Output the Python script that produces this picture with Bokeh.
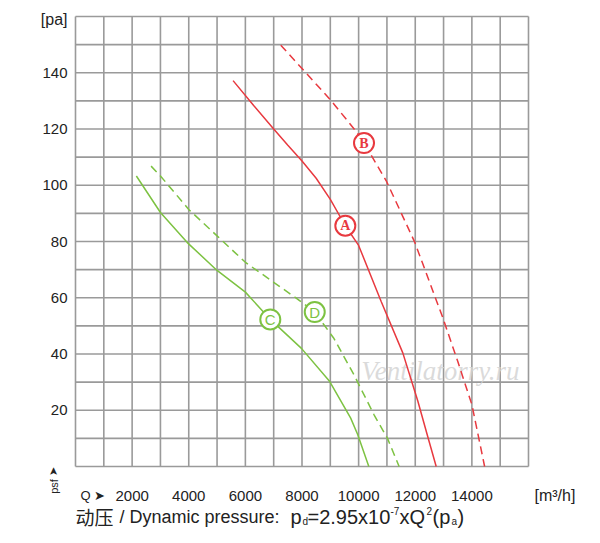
from bokeh.plotting import figure
from bokeh.core.properties import value
from bokeh.embed import file_html
from bokeh.resources import INLINE

A_x = [5565, 6300, 7000, 7500, 8000, 8500, 9000, 9530, 10000, 10800, 11560, 12090, 12450, 12740]
A_y = [137.2, 128.3, 120, 114.2, 108.6, 102.5, 95, 85.6, 78.6, 58.6, 40.4, 23.3, 10.3, 0]
B_x = [7250, 8000, 9000, 9860, 10190, 10980, 11980, 12980, 13500, 14000, 14450]
B_y = [149.8, 141.5, 130.4, 119.8, 115, 101.5, 79.8, 52.7, 37.4, 22, 0]
C_x = [2150, 3000, 3940, 5000, 6000, 6880, 7980, 8980, 9720, 9970, 10360]
C_y = [103.3, 90.3, 79.7, 69.7, 62, 52.3, 42, 30.2, 17.2, 11.3, 0]
D_x = [2670, 3000, 4000, 5000, 6000, 7000, 7830, 8450, 9130, 9840, 10550, 11020, 11430]
D_y = [106.8, 103.3, 91.4, 82, 72.6, 65.5, 59.6, 54.9, 45.5, 32.5, 18.3, 10, 0]
mark_text = ["A", "B", "C", "D"]
mark_x = [9530, 10190, 6880, 8450]
mark_y = [85.6, 115, 52.3, 54.9]
x_ticks = [2000, 4000, 6000, 8000, 10000, 12000, 14000]
y_ticks = [20, 40, 60, 80, 100, 120, 140]
caption_parts = ["/ Dynamic pressure:", "p", "d", "=2.95x10", "-7", "xQ", "2", "(p", "a", ")"]
caption_left_px = [119, 290, 302, 307, 390, 399, 426, 432, 451, 457]
caption_kind = ["n", "n", "sub", "n", "sup", "n", "sup", "n", "sub", "n"]

RED = "#e8393f"; GREEN = "#7dc242"; GRID = "#9a9a9a"; INK = "#222222"
FONT = value("Liberation Sans")
XMAX, YMAX = 16000, 160
PXX = 453 / XMAX
PXY = 450 / YMAX
W, H = 584, 535
LEFT, TOP, BOTTOM = 75, 16, 466
x0 = -LEFT / PXX; x1 = XMAX + (W - LEFT - 453) / PXX
y0 = -(H - BOTTOM) / PXY; y1 = YMAX + TOP / PXY

def page_x(px):
    return (px - LEFT) / PXX

def page_y(py):
    return (BOTTOM - py) / PXY

p = figure(width=W, height=H, output_backend="svg", toolbar_location=None,
           x_range=(x0, x1), y_range=(y0, y1), min_border=0)
p.axis.visible = False
p.grid.visible = False
p.outline_line_color = None
p.background_fill_color = "white"

gx = list(range(0, XMAX + 1, 1000))
gy = list(range(0, YMAX + 1, 10))
p.segment(x0=gx, y0=[0] * len(gx), x1=gx, y1=[YMAX] * len(gx), line_color=GRID, line_width=1.6)
p.segment(x0=[0] * len(gy), y0=gy, x1=[XMAX] * len(gy), y1=gy, line_color=GRID, line_width=1.6)

p.text(x=[12890], y=[34], text=["Ventilatorry.ru"], text_font=value("Liberation Serif"),
       text_font_style="italic", text_font_size="27px", text_color="#d4d4d4",
       text_align="center", text_baseline="middle", text_alpha=0.85)

p.line(A_x, A_y, line_color=RED, line_width=1.5)
p.line(B_x, B_y, line_color=RED, line_width=1.5, line_dash="8 5")
p.line(C_x, C_y, line_color=GREEN, line_width=1.5)
p.line(D_x, D_y, line_color=GREEN, line_width=1.5, line_dash="8 5")
mc = [RED, RED, GREEN, GREEN]
p.scatter(mark_x, mark_y, size=20, fill_color="white", line_color=mc, line_width=2)
p.text(mark_x[:2], mark_y[:2], text=mark_text[:2], text_color=mc[:2], text_align="center",
       text_baseline="middle", text_font_size="14px", text_font=value("Liberation Serif"),
       text_font_style="bold")
p.text(mark_x[2:], mark_y[2:], text=mark_text[2:], text_color=mc[2:], text_align="center",
       text_baseline="middle", text_font_size="15px", text_font=FONT)

TY = page_y(495)
p.text(x=x_ticks, y=[TY] * len(x_ticks), text=[str(t) for t in x_ticks], text_font=FONT,
       text_font_size="15px", text_color=INK, text_align="center", text_baseline="middle")
p.text(x=[page_x(67)] * len(y_ticks), y=y_ticks, text=[str(t) for t in y_ticks], text_font=FONT,
       text_font_size="15px", text_color=INK, text_align="right", text_baseline="middle")
p.text(x=[page_x(67)], y=[page_y(19)], text=["[pa]"], text_font=FONT, text_font_size="16px",
       text_color=INK, text_align="right", text_baseline="middle")
p.text(x=[page_x(80)], y=[TY], text=["Q ➤"], text_font=FONT, text_font_size="13px",
       text_color=INK, text_align="left", text_baseline="middle")
p.text(x=[page_x(534)], y=[TY], text=["[m³/h]"], text_font=FONT, text_font_size="16px",
       text_color=INK, text_align="left", text_baseline="middle")
p.text(x=[page_x(53)], y=[page_y(480)], text=["psf ➤"], angle=1.5708, text_font=FONT,
       text_font_size="11px", text_color=INK, text_align="center", text_baseline="middle")

CY = page_y(516)
p.text(x=[page_x(75)], y=[CY], text=["动压"], text_font=value("Noto Sans CJK SC"),
       text_font_size="19px", text_color=INK, text_align="left", text_baseline="middle")
for i, (t, px, k) in enumerate(zip(caption_parts, caption_left_px, caption_kind)):
    yy = CY - 1.6 if k == "sub" else (CY + 1.8 if k == "sup" else CY)
    fs = "10px" if k != "n" else ("18px" if i == 0 else "20px")
    p.text(x=[page_x(px)], y=[yy], text=[t], text_font=FONT, text_font_size=fs,
           text_color=INK, text_align="left", text_baseline="middle")
open("out.html", "w").write(file_html(p, INLINE))
